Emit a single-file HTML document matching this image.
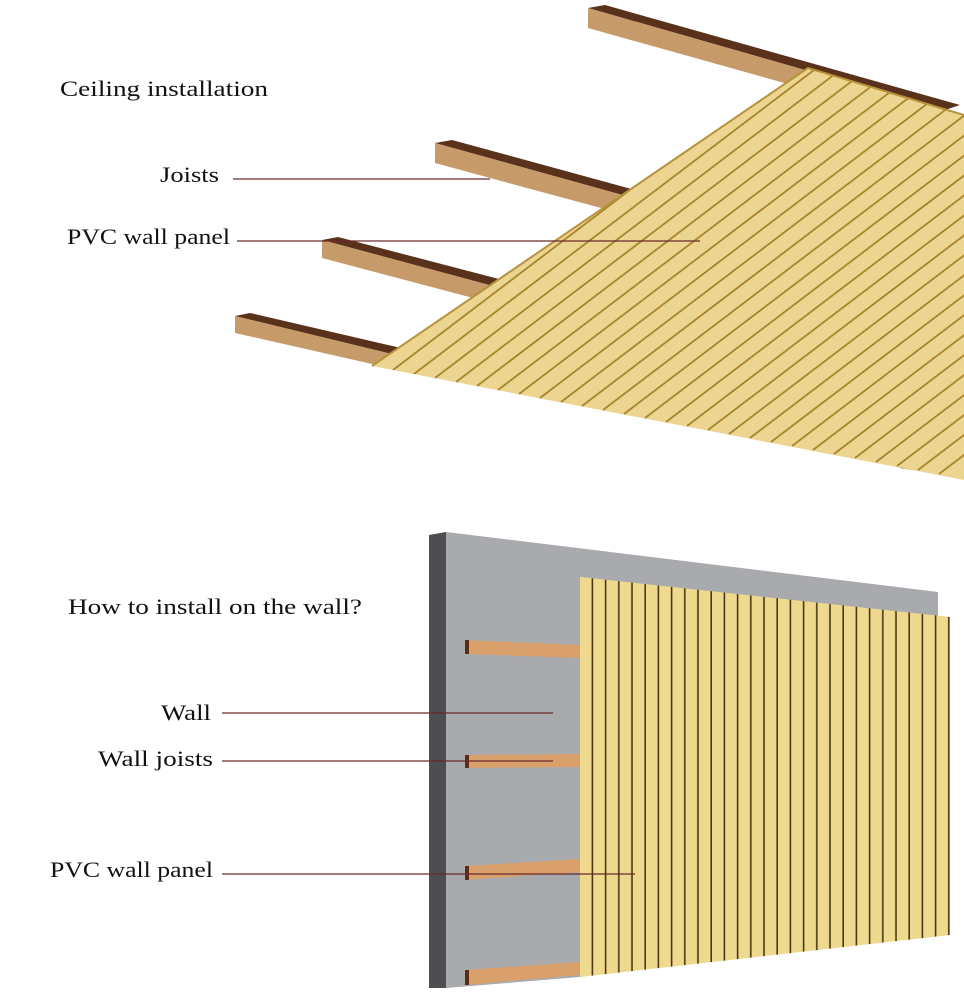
<!DOCTYPE html>
<html><head><meta charset="utf-8"><style>
body{margin:0;background:#fff;}
svg{display:block}
text{font-family:"Liberation Serif","DejaVu Serif",serif;font-size:22px;fill:#111;}
</style></head><body>
<svg width="964" height="994" viewBox="0 0 964 994" xmlns="http://www.w3.org/2000/svg">
<defs>
<clipPath id="cp"><polygon points="372,366 808,68 964,115 964,480"/></clipPath>
<pattern id="vs" x="580" y="0" width="13.2" height="10" patternUnits="userSpaceOnUse">
<rect width="13.2" height="10" fill="#eed98e"/><rect x="11.6" width="1.6" height="10" fill="#4a3812"/>
</pattern>
</defs>
<rect width="964" height="994" fill="#fff"/>
<g>
<polygon points="588,8 605,5 960,105 945,110" fill="#5a321c"/>
<polygon points="588,8 945,110 945,128 588,28" fill="#c79a6a"/>
<polygon points="435,143 452,140 800,235 785,240" fill="#5a321c"/>
<polygon points="435,143 785,240 785,258 435,163" fill="#c79a6a"/>
<polygon points="322,240 338,237 560,295 545,300" fill="#5a321c"/>
<polygon points="322,240 545,300 545,317 322,258" fill="#c79a6a"/>
<polygon points="235,316 250,313 440,357 425,362" fill="#5a321c"/>
<polygon points="235,316 425,362 425,376 235,333" fill="#c79a6a"/>
<polygon points="900,458 964,462 964,478 900,468" fill="#5a321c"/>
</g>
<polygon points="372,366 808,68 964,115 964,480" fill="#ecd590"/>
<g clip-path="url(#cp)" stroke="#a8842e" stroke-width="1.8">
<line x1="393" y1="370" x2="993" y2="-86"/><line x1="414" y1="374" x2="1014" y2="-82"/>
<line x1="435" y1="378" x2="1035" y2="-78"/><line x1="456" y1="382" x2="1056" y2="-74"/>
<line x1="477" y1="386" x2="1077" y2="-70"/><line x1="498" y1="390" x2="1098" y2="-66"/>
<line x1="519" y1="394" x2="1119" y2="-62"/><line x1="540" y1="398" x2="1140" y2="-58"/>
<line x1="561" y1="402" x2="1161" y2="-54"/><line x1="582" y1="406" x2="1182" y2="-50"/>
<line x1="603" y1="410" x2="1203" y2="-46"/><line x1="624" y1="414" x2="1224" y2="-42"/>
<line x1="645" y1="418" x2="1245" y2="-38"/><line x1="666" y1="422" x2="1266" y2="-34"/>
<line x1="687" y1="426" x2="1287" y2="-30"/><line x1="708" y1="430" x2="1308" y2="-26"/>
<line x1="729" y1="434" x2="1329" y2="-22"/><line x1="750" y1="438" x2="1350" y2="-18"/>
<line x1="771" y1="442" x2="1371" y2="-14"/><line x1="792" y1="446" x2="1392" y2="-10"/>
<line x1="813" y1="450" x2="1413" y2="-6"/><line x1="834" y1="454" x2="1434" y2="-2"/>
<line x1="855" y1="458" x2="1455" y2="2"/><line x1="876" y1="462" x2="1476" y2="6"/>
<line x1="897" y1="466" x2="1497" y2="10"/><line x1="918" y1="470" x2="1518" y2="14"/>
<line x1="939" y1="474" x2="1539" y2="18"/>
</g>
<polyline points="372,366 808,68 964,115" fill="none" stroke="#b8923a" stroke-width="2"/>
<polygon points="429,535 446,532 446,988 429,988" fill="#4e4e50"/>
<polygon points="446,532 938,592 938,617 580,577 580,977 446,988" fill="#a9aaad"/>
<g>
<polygon points="465,640 580,645 580,658 465,654" fill="#d9a06c"/><rect x="465" y="640" width="4" height="14" fill="#5a2c14"/>
<polygon points="465,755 580,754 580,767 465,768" fill="#d9a06c"/><rect x="465" y="755" width="4" height="13" fill="#5a2c14"/>
<polygon points="465,866 580,859 580,872 465,880" fill="#d9a06c"/><rect x="465" y="866" width="4" height="14" fill="#5a2c14"/>
<polygon points="465,970 580,962 580,975 465,985" fill="#d9a06c"/><rect x="465" y="970" width="4" height="15" fill="#5a2c14"/>
</g>
<polygon points="580,577 950,617 950,935 580,977" fill="url(#vs)"/>
<text x="60" y="96" textLength="208" lengthAdjust="spacingAndGlyphs">Ceiling installation</text>
<text x="160" y="182" textLength="59" lengthAdjust="spacingAndGlyphs">Joists</text>
<text x="67" y="244" textLength="163" lengthAdjust="spacingAndGlyphs">PVC wall panel</text>
<text x="68" y="614" textLength="294" lengthAdjust="spacingAndGlyphs">How to install on the wall?</text>
<text x="161" y="720" textLength="50" lengthAdjust="spacingAndGlyphs">Wall</text>
<text x="98" y="766" textLength="115" lengthAdjust="spacingAndGlyphs">Wall joists</text>
<text x="50" y="877" textLength="163" lengthAdjust="spacingAndGlyphs">PVC wall panel</text>
<g stroke="#6b2a2a" stroke-width="1.2">
<line x1="233" y1="179" x2="490" y2="179"/>
<line x1="237" y1="241" x2="700" y2="241"/>
<line x1="222" y1="713" x2="553" y2="713"/>
<line x1="222" y1="761" x2="553" y2="761"/>
<line x1="222" y1="874" x2="635" y2="874"/>
</g>
</svg>
</body></html>
